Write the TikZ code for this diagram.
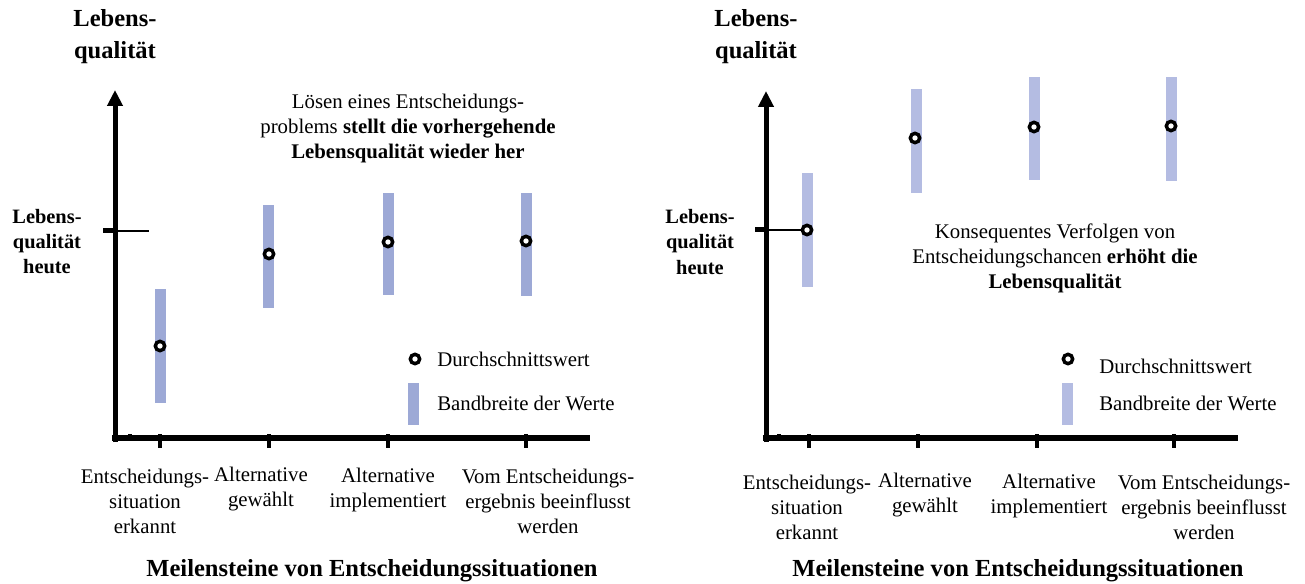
\documentclass[tikz,border=0pt]{standalone}
\usepackage{fontspec}
\setmainfont{Liberation Serif}
\usetikzlibrary{arrows.meta}

\definecolor{bandL}{RGB}{157,169,214}
\definecolor{bandR}{RGB}{180,188,226}

\begin{document}
\begin{tikzpicture}[x=0.75pt, y=-0.75pt,
		every node/.style={inner sep=0pt, align=center},
		txt/.style={font=\fontsize{15.6}{18.75}\selectfont},
		ttl/.style={font=\bfseries\fontsize{18.4}{24}\selectfont},
		ylbl/.style={font=\bfseries\fontsize{15.3}{19}\selectfont},
		yaxis/.style={line width=3.75pt, -{Triangle[length=12pt, width=11.25pt]}},
		xaxis/.style={line width=4.5pt},
		tick/.style={line width=3.4pt},
		dot/.style={circle, draw, line width=2.6pt, fill=white, minimum size=7pt}]

	\useasboundingbox (0,0) rectangle (1305,584);

	% left panel
	\node[ttl] (ttlL) at (115,36.5) {Lebens-\\qualität};
	\coordinate (oL) at (115,442);
	\coordinate (yL) at (115,90);
	\coordinate (xL0) at (112,438);
	\coordinate (xL) at (590,438);
	\draw[yaxis] (oL) -- (yL);
	\draw[xaxis] (xL0) -- (xL);
	\draw[tick] (160,434) -- (160,448);
	\draw[tick] (269,434) -- (269,448);
	\draw[tick] (388,434) -- (388,448);
	\draw[tick] (526,434) -- (526,448);
	\draw[tick] (130,434) -- (130,438);

	\coordinate (hL0) at (103,231);
	\coordinate (hL) at (149,231);
	\draw[line width=3.75pt] (hL0) -- (116,231);
	\draw[line width=1.5pt] (hL0) -- (hL);
	\node[ylbl] (heuteL) at (47,241.5) {Lebens-\\qualität\\heute};

	\fill[bandL] (154.5,289) rectangle (165.5,403);
	\fill[bandL] (263,205) rectangle (274,308);
	\fill[bandL] (383,193) rectangle (394,295);
	\fill[bandL] (520.5,193) rectangle (531.5,296);
	\node[dot] (l1) at (160,346) {};
	\node[dot] (l2) at (269,254) {};
	\node[dot] (l3) at (388,242) {};
	\node[dot] (l4) at (526,241) {};

	\node[txt] (noteL) at (408,128.5) {Lösen eines Entscheidungs-\\problems \textbf{stellt die vorhergehende}\\\textbf{Lebensqualität wieder her}};

	\node[dot] (legdotL) at (415,359) {};
	\node[txt, anchor=west] (legavgL) at (437,359) {Durchschnittswert};
	\fill[bandL] (407.5,383) rectangle (418.5,425);
	\node[txt, anchor=west] (legbandL) at (437,403) {Bandbreite der Werte};

	\node[txt] (m1L) at (145,501.5) {Entscheidungs-\\situation\\erkannt};
	\node[txt] (m2L) at (261,489.5) {Alternative\\gewählt};
	\node[txt] (m3L) at (388,489.5) {Alternative\\implementiert};
	\node[txt] (m4L) at (548,501.5) {Vom Entscheidungs-\\ergebnis beeinflusst\\werden};
	\node[ttl] (msL) at (372,571) {Meilensteine von Entscheidungssituationen};

	% right panel
	\node[ttl] (ttlR) at (756,37) {Lebens-\\qualität};
	\coordinate (oR) at (766,442);
	\coordinate (yR) at (766,91);
	\coordinate (xR0) at (763,438);
	\coordinate (xR) at (1238,438);
	\draw[yaxis] (oR) -- (yR);
	\draw[xaxis] (xR0) -- (xR);
	\draw[tick] (809,434) -- (809,448);
	\draw[tick] (918,434) -- (918,448);
	\draw[tick] (1037,434) -- (1037,448);
	\draw[tick] (1174,434) -- (1174,448);
	\draw[tick] (779,434) -- (779,438);

	\coordinate (hR0) at (755,230);
	\draw[line width=3.75pt] (hR0) -- (767,230);
	\node[ylbl] (heuteR) at (700,242) {Lebens-\\qualität\\heute};

	\fill[bandR] (801.5,173) rectangle (812.5,287);
	\fill[bandR] (910.5,89) rectangle (921.5,193);
	\fill[bandR] (1029,77) rectangle (1040,180);
	\fill[bandR] (1165.5,77) rectangle (1176.5,181);
	\node[dot] (r1) at (807,230) {};
	\node[dot] (r2) at (915,138) {};
	\node[dot] (r3) at (1034,127) {};
	\node[dot] (r4) at (1171,126) {};
	\draw[line width=1.5pt] (hR0) -- (r1);

	\node[txt] (noteR) at (1055,258) {Konsequentes Verfolgen von\\Entscheidungschancen \textbf{erhöht die}\\\textbf{Lebensqualität}};

	\node[dot] (legdotR) at (1068,359) {};
	\node[txt, anchor=west] (legavgR) at (1099,366) {Durchschnittswert};
	\fill[bandR] (1062,383) rectangle (1073,425);
	\node[txt, anchor=west] (legbandR) at (1099,403) {Bandbreite der Werte};

	\node[txt] (m1R) at (807,507) {Entscheidungs-\\situation\\erkannt};
	\node[txt] (m2R) at (925,495.5) {Alternative\\gewählt};
	\node[txt] (m3R) at (1049,495.5) {Alternative\\implementiert};
	\node[txt] (m4R) at (1204,507) {Vom Entscheidungs-\\ergebnis beeinflusst\\werden};
	\node[ttl] (msR) at (1018,571) {Meilensteine von Entscheidungssituationen};
\end{tikzpicture}
\end{document}
